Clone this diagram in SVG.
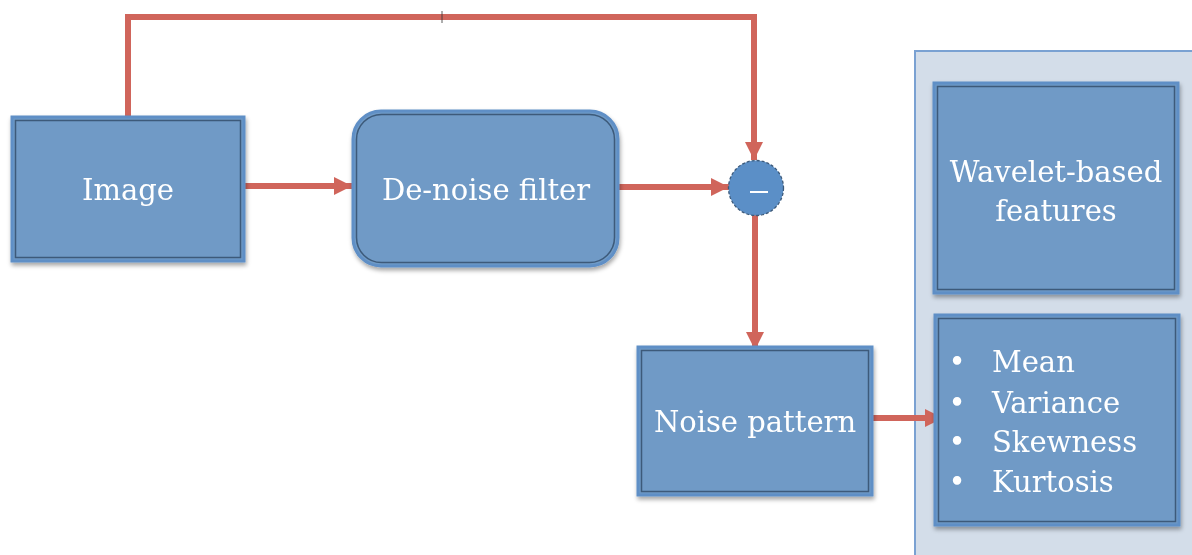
<svg xmlns="http://www.w3.org/2000/svg" width="1192" height="555" viewBox="0 0 1192 555">
  <style>
    .box { fill: #6f9ac6; stroke: #5f8fc6; stroke-width: 3; }
    .inner { fill: none; stroke: #3d5a7a; stroke-width: 1.5; }
    .label { font-family: "DejaVu Serif", "Liberation Serif", serif; font-size: 29px; fill: #ffffff; }
    .wire { fill: none; stroke: #d0655b; stroke-width: 6; stroke-linejoin: miter; }
  </style>
  <defs>
    <filter id="shadow" x="-10%" y="-10%" width="125%" height="130%">
      <feDropShadow dx="1" dy="3" stdDeviation="2" flood-color="#000000" flood-opacity="0.35"/>
    </filter>
    <marker id="head" markerUnits="userSpaceOnUse" markerWidth="20" markerHeight="18" refX="18" refY="9" orient="auto">
      <path d="M0,0 L18,9 L0,18 Z" fill="#d0655b"/>
    </marker>
  </defs>

  <!-- feature panel background -->
  <g id="panel">
    <rect x="915" y="51" width="290" height="520" fill="#d3dde9" stroke="#7aa1d2" stroke-width="2"/>
  </g>

  <!-- connectors -->
  <g id="connectors">
    <path class="wire" d="M128,117 V17 H754 V160" marker-end="url(#head)"/>
    <line x1="442" y1="11" x2="442" y2="23" stroke="#333" stroke-width="0.8"/>
    <line class="wire" x1="245" y1="186" x2="352" y2="186" marker-end="url(#head)"/>
    <line class="wire" x1="618" y1="187" x2="729" y2="187" marker-end="url(#head)"/>
    <line class="wire" x1="755" y1="215" x2="755" y2="350" marker-end="url(#head)"/>
    <line class="wire" x1="872" y1="418" x2="943" y2="418" marker-end="url(#head)"/>
  </g>

  <g id="image" filter="url(#shadow)">
    <rect class="box" x="12" y="117" width="232" height="144"/>
    <rect class="inner" x="15.5" y="120.5" width="225" height="137"/>
    <text class="label" x="128" y="200" text-anchor="middle">Image</text>
  </g>

  <g id="denoise" filter="url(#shadow)">
    <rect class="box" x="353" y="111" width="265" height="155" rx="28"/>
    <rect class="inner" x="356.5" y="114.5" width="258" height="148" rx="25"/>
    <text class="label" x="486" y="200" text-anchor="middle">De-noise filter</text>
  </g>

  <g id="subtract">
    <circle cx="756" cy="188" r="27.5" fill="#5b8fc7" stroke="#3d5a7a" stroke-width="1.3" stroke-dasharray="3 2"/>
    <line x1="750" y1="192" x2="768" y2="192" stroke="#ffffff" stroke-width="2"/>
  </g>

  <g id="noise" filter="url(#shadow)">
    <rect class="box" x="638" y="347" width="234" height="148"/>
    <rect class="inner" x="641.5" y="350.5" width="227" height="141"/>
    <text class="label" x="755" y="432" text-anchor="middle">Noise pattern</text>
  </g>

  <g id="wavelet" filter="url(#shadow)">
    <rect class="box" x="934" y="83" width="244" height="210"/>
    <rect class="inner" x="937.5" y="86.5" width="237" height="203"/>
    <text class="label" x="1056" y="182" text-anchor="middle">Wavelet-based</text>
    <text class="label" x="1056" y="221" text-anchor="middle">features</text>
  </g>

  <g id="stats" filter="url(#shadow)">
    <rect class="box" x="935" y="315" width="244" height="210"/>
    <rect class="inner" x="938.5" y="318.5" width="237" height="203"/>
    <g class="label">
      <text x="957" y="372" text-anchor="middle">•</text>
      <text x="957" y="413" text-anchor="middle">•</text>
      <text x="957" y="452" text-anchor="middle">•</text>
      <text x="957" y="492" text-anchor="middle">•</text>
      <text x="992" y="372">Mean</text>
      <text x="992" y="413">Variance</text>
      <text x="992" y="452">Skewness</text>
      <text x="992" y="492">Kurtosis</text>
    </g>
  </g>
</svg>
